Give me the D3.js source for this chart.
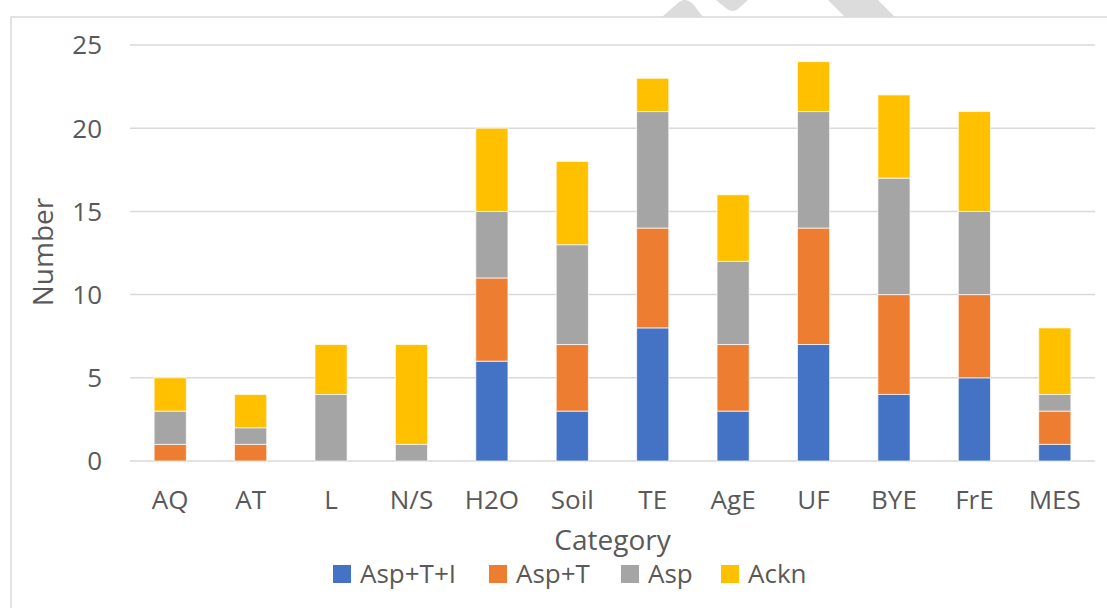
<!DOCTYPE html>
<html>
<head>
<meta charset="utf-8">
<script src="https://cdn.jsdelivr.net/npm/d3@7"></script>
<style>
	html, body { margin: 0; padding: 0; background: #fff; }
	svg { display: block; font-family: "Open Sans", "Liberation Sans", sans-serif; }
	text { fill: #595959; }
</style>
</head>
<body>
<div id="chart"></div>
<script>
// categories along the x axis
const categories = ["AQ", "AT", "L", "N/S", "H2O", "Soil", "TE", "AgE", "UF", "BYE", "FrE", "MES"];
// stacked series, bottom to top
const seriesNames = ["Asp+T+I", "Asp+T", "Asp", "Ackn"];
const aspTI = [0, 0, 0, 0, 6, 3, 8, 3, 7, 4, 5, 1];
const aspT  = [1, 1, 0, 0, 5, 4, 6, 4, 7, 6, 5, 2];
const asp   = [2, 1, 4, 1, 4, 6, 7, 5, 7, 7, 5, 1];
const ackn  = [2, 2, 3, 6, 5, 5, 2, 4, 3, 5, 6, 4];
const yTicks = [0, 5, 10, 15, 20, 25];
const colors = ["#4472C4", "#ED7D31", "#A5A5A5", "#FFC000"];

const width = 1107,
	height = 608,
	margin = {top: 45, right: 12, bottom: 147, left: 130};

const svg = d3.select("#chart").append("svg")
	.attr("width", width)
	.attr("height", height);

// watermark pieces peeking over the chart frame
const wm = svg.append("g").attr("fill", "#dcdcdc");
wm.append("path").attr("d", "M662,17 L679,2 Q686,-3 693,4 L703,17 Z");
wm.append("path").attr("d", "M716,0 L748,0 L738,9 Q733,13 727,9 Z");
wm.append("path").attr("d", "M828,0 L878,0 L895,17 L845,17 Z");

// chart frame
svg.append("rect")
	.attr("x", 11)
	.attr("y", 17)
	.attr("width", 1140)
	.attr("height", 640)
	.attr("fill", "#fff")
	.attr("stroke", "#d9d9d9")
	.attr("stroke-width", 1.5);

const rows = categories.map((c, i) => ({
	cat: c, "Asp+T+I": aspTI[i], "Asp+T": aspT[i], "Asp": asp[i], "Ackn": ackn[i]
}));
const stacked = d3.stack().keys(seriesNames)(rows);

const x = d3.scaleBand()
	.domain(categories)
	.range([margin.left, width - margin.right])
	.paddingInner(0.6)
	.paddingOuter(0.3);

const y = d3.scaleLinear()
	.domain([0, 25])
	.range([height - margin.bottom, margin.top]);

// gridlines
svg.append("g")
	.selectAll("line")
	.data(yTicks)
	.join("line")
	.attr("x1", margin.left)
	.attr("x2", width - margin.right)
	.attr("y1", d => y(d))
	.attr("y2", d => y(d))
	.attr("stroke", "#d9d9d9")
	.attr("stroke-width", 1.5);

// y tick labels
svg.append("g")
	.selectAll("text")
	.data(yTicks)
	.join("text")
	.attr("x", 102)
	.attr("y", d => y(d))
	.attr("dy", "0.36em")
	.attr("text-anchor", "end")
	.attr("font-size", 26)
	.text(d => d);

// bars
svg.append("g")
	.selectAll("g")
	.data(stacked)
	.join("g")
	.attr("fill", (d, i) => colors[i])
	.selectAll("rect")
	.data(d => d.filter(s => s[1] > s[0]))
	.join("rect")
	.attr("x", d => x(d.data.cat))
	.attr("width", x.bandwidth())
	.attr("y", d => y(d[1]))
	.attr("height", d => y(d[0]) - y(d[1]))
	.attr("stroke", "#fff")
	.attr("stroke-opacity", 0.7)
	.attr("stroke-width", 1);

// category labels
svg.append("g")
	.selectAll("text")
	.data(categories)
	.join("text")
	.attr("x", d => x(d) + x.bandwidth() / 2)
	.attr("y", 509)
	.attr("text-anchor", "middle")
	.attr("font-size", 26)
	.text(d => d);

// axis titles
svg.append("text")
	.attr("x", (margin.left + width - margin.right) / 2)
	.attr("y", 550)
	.attr("text-anchor", "middle")
	.attr("font-size", 28)
	.text("Category");

svg.append("text")
	.attr("transform", "translate(53," + 252 + ") rotate(-90)")
	.attr("text-anchor", "middle")
	.attr("font-size", 28)
	.text("Number");

// legend
const legendX = [333, 489, 621, 721];
const legend = svg.append("g")
	.selectAll("g")
	.data(seriesNames)
	.join("g")
	.attr("transform", (d, i) => "translate(" + legendX[i] + ",565)");

legend.append("rect")
	.attr("width", 18)
	.attr("height", 18)
	.attr("fill", (d, i) => colors[i]);

legend.append("text")
	.attr("x", 27)
	.attr("y", 18)
	.attr("font-size", 26)
	.text(d => d);
</script>
</body>
</html>
